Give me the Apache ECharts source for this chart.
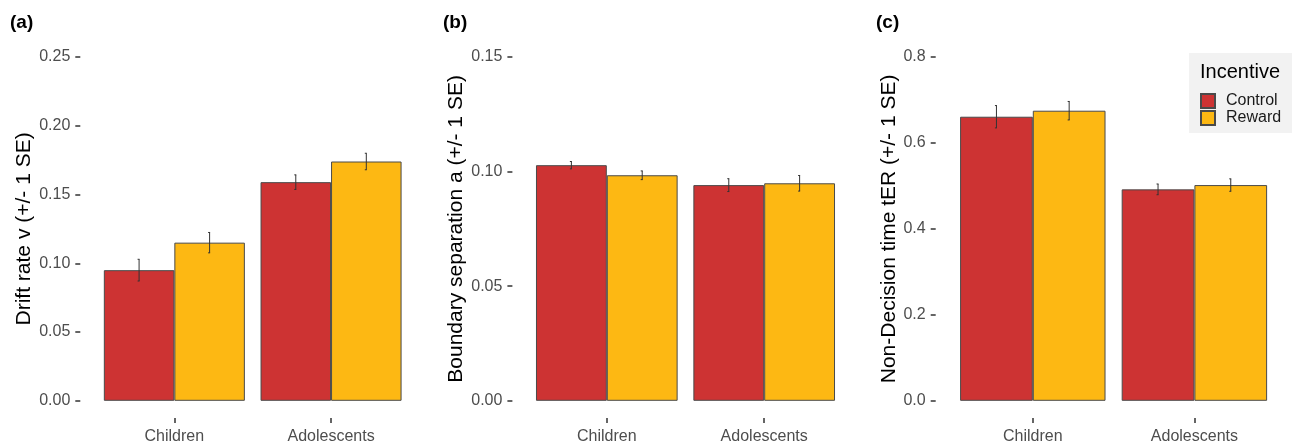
<!DOCTYPE html>
<html>
<head>
<meta charset="utf-8">
<script src="https://cdn.jsdelivr.net/npm/echarts@6/dist/echarts.min.js"></script>
<style>
html,body{margin:0;padding:0;background:#fff;}
#chart{width:1296px;height:445px;}
</style>
</head>
<body>
<div id="chart"></div>
<script>
// ---- data ----
const categories = ['Children', 'Adolescents'];
const groupNames = ['Control', 'Reward'];

const driftControl = [0.095, 0.159];
const driftReward = [0.115, 0.174];
const driftControlSE = [0.0079, 0.0053];
const driftRewardSE = [0.0074, 0.0060];

const boundaryControl = [0.1028, 0.0941];
const boundaryReward = [0.0984, 0.0949];
const boundaryControlSE = [0.0016, 0.0028];
const boundaryRewardSE = [0.0019, 0.0034];

const nondecControl = [0.661, 0.492];
const nondecReward = [0.675, 0.502];
const nondecControlSE = [0.026, 0.0125];
const nondecRewardSE = [0.0215, 0.0145];

const driftTicks = [0, 0.05, 0.10, 0.15, 0.20, 0.25];
const boundaryTicks = [0, 0.05, 0.10, 0.15];
const nondecTicks = [0, 0.2, 0.4, 0.6, 0.8];

const panelLabels = ['(a)', '(b)', '(c)'];
const yTitles = ['Drift rate v (+/- 1 SE)', 'Boundary separation a (+/- 1 SE)', 'Non-Decision time tER (+/- 1 SE)'];
const yDecimals = [2, 2, 1];

// ---- styles ----
const FONT = '"Liberation Sans", Arial, sans-serif';
const RED = '#CD3333';
const GOLD = '#FDB813';
const BORDER = '#4a4a4a';

const panels = [
  {ctrl: driftControl, rew: driftReward, ctrlSE: driftControlSE, rewSE: driftRewardSE, ticks: driftTicks, left: 96, width: 313.4, offset: 15.7, nameGap: 46},
  {ctrl: boundaryControl, rew: boundaryReward, ctrlSE: boundaryControlSE, rewSE: boundaryRewardSE, ticks: boundaryTicks, left: 528.1, width: 314.8, offset: 15.7, nameGap: 46},
  {ctrl: nondecControl, rew: nondecReward, ctrlSE: nondecControlSE, rewSE: nondecRewardSE, ticks: nondecTicks, left: 952, width: 323.2, offset: 16.3, nameGap: 35}
];

const grids = [], xAxes = [], yAxes = [], series = [], graphics = [];
const panelLabelX = [10, 443, 876];

panels.forEach((p, i) => {
  const top = p.ticks[p.ticks.length - 1];
  const pad = top * 0.05; // ggplot default 5% expansion
  grids.push({left: p.left, width: p.width, top: 39.8, bottom: 26.8});
  xAxes.push({
    type: 'category', gridIndex: i, data: categories,
    axisLine: {show: false, onZero: false},
    axisTick: {show: true, alignWithLabel: true, length: 5, lineStyle: {color: '#333', width: 1.5}},
    axisLabel: {color: '#4D4D4D', fontSize: 16, fontFamily: FONT, margin: 11}
  });
  yAxes.push({
    type: 'value', gridIndex: i, min: -pad, max: top + pad, offset: p.offset,
    name: yTitles[i], nameLocation: 'middle', nameGap: p.nameGap,
    nameTextStyle: {color: '#000', fontSize: 21, fontFamily: FONT},
    axisLine: {show: false, onZero: false},
    axisTick: {show: true, length: 5, customValues: p.ticks, lineStyle: {color: '#333', width: 1.5}},
    splitLine: {show: false},
    axisLabel: {color: '#4D4D4D', fontSize: 16, fontFamily: FONT, margin: 10, customValues: p.ticks,
      formatter: v => Number(v).toFixed(yDecimals[i])}
  });
  series.push({
    type: 'bar', name: groupNames[0], xAxisIndex: i, yAxisIndex: i, data: p.ctrl,
    barWidth: '45%', barGap: '0%',
    itemStyle: {color: RED, borderColor: BORDER, borderWidth: 1}
  });
  series.push({
    type: 'bar', name: groupNames[1], xAxisIndex: i, yAxisIndex: i, data: p.rew,
    barWidth: '45%', barGap: '0%',
    itemStyle: {color: GOLD, borderColor: BORDER, borderWidth: 1}
  });
  const errData = [];
  categories.forEach((c, k) => {
    errData.push([k, p.ctrl[k], p.ctrlSE[k], -1]);
    errData.push([k, p.rew[k], p.rewSE[k], 1]);
  });
  series.push({
    type: 'custom', name: 'err' + i, xAxisIndex: i, yAxisIndex: i, z: 10,
    data: errData,
    renderItem: (params, api) => {
      const cat = api.value(0), v = api.value(1), se = api.value(2), side = api.value(3);
      const band = api.size([1, 0])[0];
      const x = api.coord([cat, 0])[0] + side * 0.225 * band;
      const yt = api.coord([cat, v + se])[1];
      const yb = api.coord([cat, v - se])[1];
      const st = {stroke: '#333', lineWidth: 1};
      return {type: 'group', children: [
        {type: 'line', shape: {x1: x, y1: yt, x2: x, y2: yb}, style: st},
        {type: 'line', shape: {x1: x - 1.5, y1: yt, x2: x + 0.5, y2: yt}, style: st},
        {type: 'line', shape: {x1: x - 1.5, y1: yb, x2: x + 0.5, y2: yb}, style: st}
      ]};
    }
  });
  graphics.push({type: 'text', left: panelLabelX[i], top: 13,
    style: {text: panelLabels[i], font: 'bold 19px ' + FONT, fill: '#000'}});
});

// legend background and title
graphics.push({type: 'rect', shape: {x: 1189, y: 53, width: 103, height: 80}, style: {fill: '#F2F2F2'}, z: -1});
graphics.push({type: 'text', left: 1200, top: 62, style: {text: 'Incentive', font: '20px ' + FONT, fill: '#000'}});

const chart = echarts.init(document.getElementById('chart'), null, {renderer: 'canvas'});
chart.setOption({
  backgroundColor: '#fff',
  animation: false,
  grid: grids,
  xAxis: xAxes,
  yAxis: yAxes,
  series: series,
  graphic: graphics,
  legend: {
    data: groupNames, orient: 'vertical', left: 1200, top: 93,
    padding: 0, itemGap: 1, itemWidth: 14, itemHeight: 14, icon: 'rect',
    selectedMode: false,
    textStyle: {fontSize: 16, fontFamily: FONT, color: '#1a1a1a', padding: [0, 0, 0, 6]}
  }
});
</script>
</body>
</html>
